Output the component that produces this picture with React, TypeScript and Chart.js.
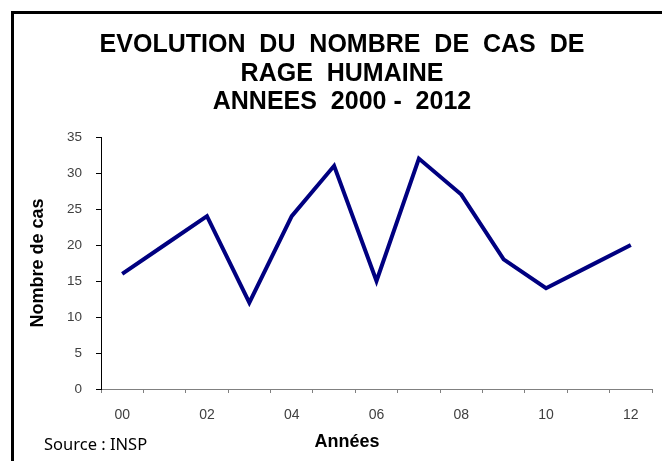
import React, { useEffect, useRef } from 'react';
import { Chart, registerables } from 'chart.js';

Chart.register(...registerables);

const years = ['00', '01', '02', '03', '04', '05', '06', '07', '08', '09', '10', '11', '12'];
const cases = [16, 20, 24, 12, 24, 31, 15, 32, 27, 18, 14, 17, 20];
const yMin = 0;
const yMax = 35;
const yStep = 5;
const titleLines = ['EVOLUTION  DU  NOMBRE  DE  CAS  DE', 'RAGE  HUMAINE', 'ANNEES  2000 -  2012'];
const xTitle = 'Années';
const yTitle = 'Nombre de cas';
const sourceText = 'Source : INSP';

const FONT = '"Liberation Sans", Arial, sans-serif';

const decorPlugin = {
  id: 'decor',
  afterDraw(chart: any) {
    const ctx = chart.ctx as CanvasRenderingContext2D;
    ctx.save();
    // frame
    ctx.strokeStyle = '#000';
    ctx.lineWidth = 3;
    ctx.beginPath();
    ctx.moveTo(12.5, 470);
    ctx.lineTo(12.5, 12.5);
    ctx.lineTo(670, 12.5);
    ctx.stroke();
    // title
    ctx.fillStyle = '#000';
    ctx.font = `bold 25px ${FONT}`;
    ctx.textAlign = 'center';
    ctx.textBaseline = 'alphabetic';
    const baselines = [52, 80.5, 108.5];
    titleLines.forEach((t, i) => ctx.fillText(t, 342, baselines[i]));
    // x title
    ctx.font = `bold 18px ${FONT}`;
    ctx.fillText(xTitle, 347, 447);
    // source
    ctx.font = `16.5px "Noto Sans", sans-serif`;
    ctx.textAlign = 'left';
    ctx.fillText(sourceText, 44, 450);
    ctx.restore();
  },
};

export default function App() {
  const ref = useRef<HTMLCanvasElement>(null);
  useEffect(() => {
    if (!ref.current) return;
    const chart = new Chart(ref.current, {
      type: 'line',
      data: {
        labels: years,
        datasets: [
          {
            data: cases,
            borderColor: '#000080',
            backgroundColor: '#000080',
            borderWidth: 4,
            pointRadius: 0,
            tension: 0,
            fill: false,
          },
        ],
      },
      plugins: [decorPlugin],
      options: {
        animation: false,
        responsive: false,
        devicePixelRatio: 1,
        layout: { padding: { left: 14, top: 137, right: 10, bottom: 0 } },
        plugins: {
          legend: { display: false },
          title: { display: false },
          tooltip: { enabled: false },
        },
        scales: {
          x: {
            type: 'category',
            offset: true,
            grid: {
              offset: true,
              drawOnChartArea: false,
              drawTicks: true,
              tickLength: 4,
              color: '#808080',
            },
            border: { display: true, color: '#808080', width: 1 },
            ticks: {
              autoSkip: false,
              maxRotation: 0,
              padding: 14,
              color: '#404040',
              font: { family: FONT, size: 14 },
              callback: (_v: any, i: number) => (i % 2 === 0 ? years[i] : ''),
            },
            afterFit: (s: any) => {
              s.height = 72;
            },
          },
          y: {
            min: yMin,
            max: yMax,
            grid: {
              drawOnChartArea: false,
              drawTicks: true,
              tickLength: 5,
              color: '#000',
            },
            border: { display: true, color: '#000', width: 1 },
            ticks: {
              stepSize: yStep,
              padding: 14,
              color: '#404040',
              font: { family: FONT, size: 13.5 },
            },
            title: {
              display: true,
              text: yTitle,
              color: '#000',
              font: { family: FONT, size: 18, weight: 'bold' },
              padding: { top: 13, bottom: 0 },
            },
            afterFit: (s: any) => {
              s.width = 87;
            },
          },
        },
      },
    });
    return () => chart.destroy();
  }, []);
  return (
    <div style={{ position: 'absolute', left: 0, top: 0, width: 662, height: 461, background: '#fff', overflow: 'hidden' }}>
      <canvas ref={ref} width={662} height={461} style={{ display: 'block' }} />
    </div>
  );
}
